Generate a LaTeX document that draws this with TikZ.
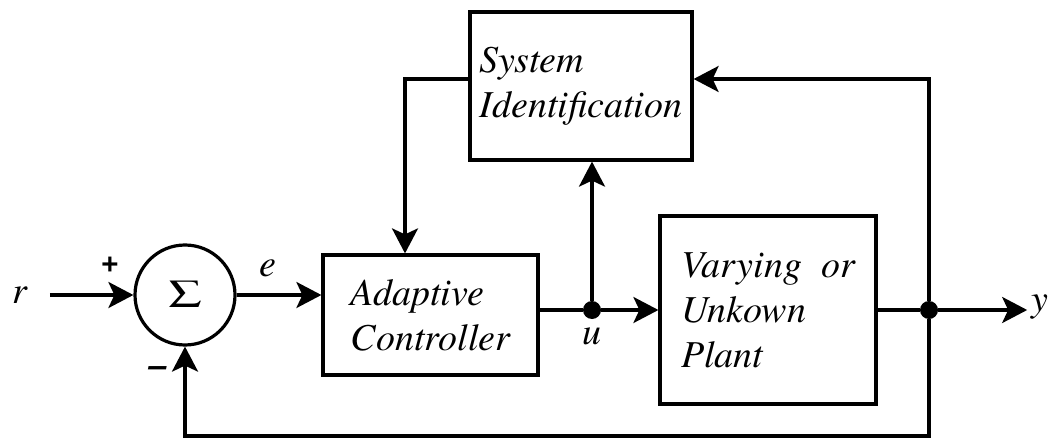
\documentclass[tikz,border=0pt]{standalone}
\usepackage{graphicx}
\usepackage{fontspec}
\setmainfont{texgyretermes}[Extension=.otf, UprightFont=*-regular, ItalicFont=*-italic, BoldFont=*-bold, BoldItalicFont=*-bolditalic]
\setsansfont{TeX Gyre Heros}
\usetikzlibrary{shapes,arrows.meta,positioning}

\tikzstyle{block} = [rectangle, draw, line width=1.6pt, align=left, inner xsep=4pt, font=\fontsize{19}{22.5}\selectfont\itshape]
\tikzstyle{adder} = [circle, draw, line width=1.6pt, minimum size=50pt, inner sep=0pt]
\tikzstyle{junction} = [circle, fill, minimum size=9pt, inner sep=0pt]
\tikzstyle{siglabel} = [font=\fontsize{19}{22}\selectfont\itshape, inner sep=2pt]
\tikzstyle{signlabel} = [font=\fontsize{16}{18}\selectfont\sffamily\bfseries, inner sep=0pt]
\tikzstyle{wire} = [draw, line width=1.6pt]
\tikzstyle{line} = [draw, line width=1.6pt, -{Stealth[length=12.5pt, width=13pt, inset=3pt]}]

\begin{document}
\begin{tikzpicture}[x=0.5pt, y=-0.5pt]
            \useasboundingbox (0,0) rectangle (1058,438);

            \node[adder]                           (sum) at (185,295){
                \fontsize{20}{20}\selectfont\raisebox{1pt}{\scalebox{1.3}[1]{Σ}}
            };
            \node[siglabel]                        (r) at (20,295){r};
            \node[signlabel]                       (plus) at (110,265){+};
            \node[signlabel]                       (minus) at (157,372){\itshape –};

            \node[block, minimum width=107.5pt, minimum height=60pt]   (controller) at (430.5,315){
                Adaptive\\Controller
            };
            \node[block, minimum width=111pt, minimum height=74pt]     (sysid) at (581,86){
                System\\Identification
            };
            \node[block, minimum width=108pt, minimum height=94pt]     (plant) at (768,310){
                Varying~~or\\Unkown\\Plant
            };

            \node[junction]                        (ujunc) at (592,310){};
            \node[junction]                        (ydot) at (929,310){};
            \coordinate                            (fb) at (929,436);

            \node[siglabel]                        (e) at (268,268){e};
            \node[siglabel]                        (u) at (592,336){u};
            \node[siglabel]                        (y) at (1040,307){y};

            \path[line, shorten <=9pt] (r) --      (sum);
            \path[line] (sum) --                   (controller.west |- sum);
            \path[wire] (controller.east |- ujunc) -- (ujunc);
            \path[line] (ujunc) --                 (plant);
            \path[line] (ujunc) --                 (sysid.south -| ujunc);
            \path[line] ([yshift=3.5pt]sysid.west) -| ([xshift=-12.75pt]controller.north);
            \path[wire] (plant) --                 (ydot);
            \path[line] (ydot) --                  (y.west |- ydot);
            \path[line] (ydot) |-                  ([yshift=3.5pt]sysid.east);
            \path[line] (ydot) -- (fb) -|          (sum.south);
        \end{tikzpicture}
\end{document}
